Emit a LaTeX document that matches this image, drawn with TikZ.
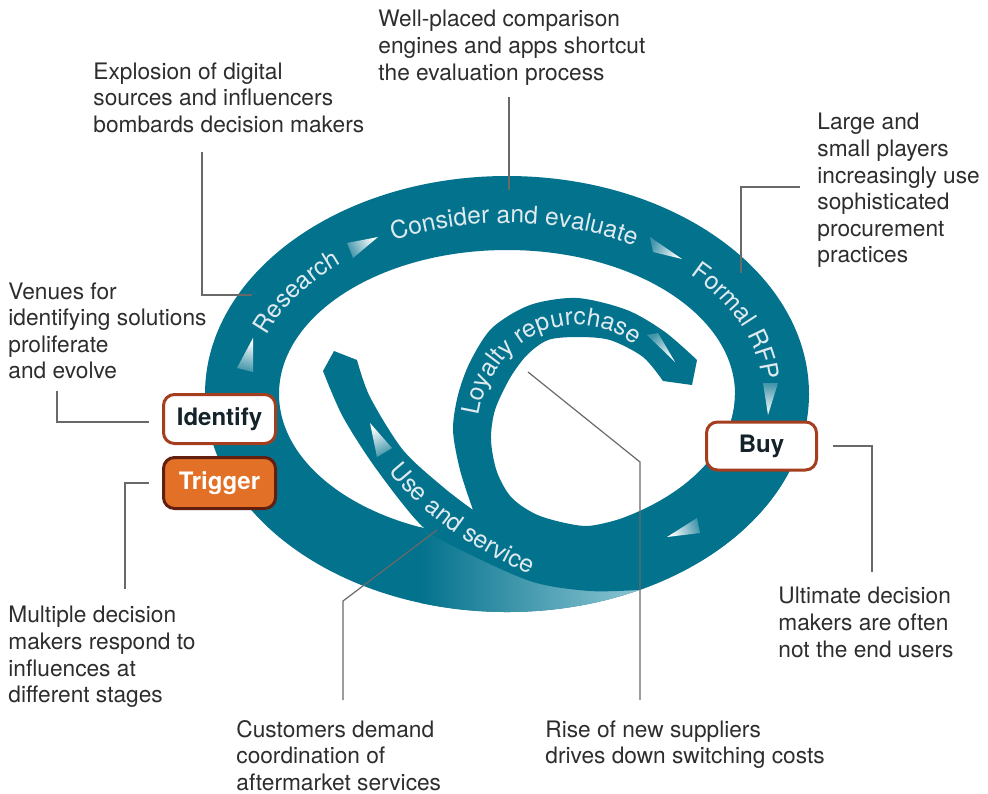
\documentclass[tikz,border=0pt]{standalone}
\usepackage{fontspec}
\setmainfont{TeX Gyre Heros}
\usetikzlibrary{calc,decorations.text}

\definecolor{ringteal}{RGB}{3,114,141}
\definecolor{ringcyan}{RGB}{0,143,170}
\definecolor{ringlight}{RGB}{178,220,230}
\definecolor{bandtext}{RGB}{222,234,239}
\definecolor{boxedge}{RGB}{164,62,30}
\definecolor{triggerfill}{RGB}{226,112,38}
\definecolor{triggeredge}{RGB}{98,30,14}
\definecolor{boxtext}{RGB}{20,34,42}
\definecolor{notetext}{RGB}{45,45,45}
\definecolor{leadergray}{RGB}{105,105,105}

\newcommand\bandfont{\fontsize{12.3}{14}\selectfont}
\newcommand\notefont{\fontsize{11.35}{13.3}\selectfont}

\tikzset{
  stagebox/.style={draw=boxedge, line width=1.5pt, fill=white, rounded corners=5.5pt,
    minimum width=56pt, minimum height=24.5pt, inner sep=0pt, text=boxtext,
    font=\bfseries\fontsize{12}{14}\selectfont},
  note/.style={anchor=north west, inner sep=0pt, align=left, text=notetext, font=\notefont},
  leader/.style={draw=leadergray, line width=0.6pt},
  fadearrow/.style={top color=white, bottom color=ringteal!75!white},
  bandlabel/.style={decorate, decoration={text along path, text align=center,
    text={|\color{bandtext}\bandfont|#1}}}
}

\begin{document}
\begin{tikzpicture}[x=0.5pt,y=-0.5pt]
		% frame in pixels of the picture
		\useasboundingbox (0,0) rectangle (988,793);
		
		% centre and radii of the ring
		\coordinate (o) at (507,394);
		\def\outx{151pt}
		\def\outy{109pt}
		\def\inx{114pt}
		\def\iny{72pt}
		\coordinate (loopjoin) at ($(o)+(-60:114pt and 72pt)$);
		\coordinate (outtwenty) at ($(o)+(-20:151pt and 109pt)$);
		\coordinate (sweepend) at ($(o)+(-64:151pt and 109pt)$);
		
		% the big ring
		\fill[ringteal, even odd rule] (o) ellipse[x radius=\outx, y radius=\outy]
			(o) ellipse[x radius=\inx, y radius=\iny];
		
		% lighter sweep of the ring under the spiral
		\begin{scope}[even odd rule]
			\clip (o) ellipse[x radius=\outx, y radius=\outy]
				(o) ellipse[x radius=\inx, y radius=\iny];
			\shade[left color=ringteal, middle color=ringcyan, right color=ringlight] (420,480) rectangle (700,625);
		\end{scope}
		
		% spiral: use and service band, then the loyalty loop
		\fill[ringteal] (323,371) -- (334,351) -- (357,360)
			-- plot[smooth] coordinates {(357,360) (370,397) (403,450) (443,487) (473,510)}
			-- plot[smooth] coordinates {(473,510) (460,470) (453,430) (458,395) (470,362) (492,328) (530,305) (577,298) (627,310) (665,332) (697,360)}
			-- (692,385) -- (663,381)
			-- plot[smooth] coordinates {(663,381) (643,357) (610,340) (577,337) (548,340) (527,355) (510,378) (495,410) (491,440) (497,472) (512,498) (540,516) (585,526) (loopjoin)}
			arc[start angle=-60, end angle=0, x radius=\inx, y radius=\iny]
			-- (outtwenty)
			arc[start angle=-20, end angle=-64, x radius=\outx, y radius=\outy]
			-- plot[smooth] coordinates {(sweepend) (590,591) (533,582) (467,553) (423,527) (377,470) (343,417) (323,371)}
			-- cycle;
		
		% labels along the bands
		\path[bandlabel=Research] ($(o)+(189:128pt and 85.5pt)$) arc[start angle=189, end angle=109, x radius=128pt, y radius=85.5pt];
		\path[bandlabel=Consider and evaluate] ($(o)+(138:128pt and 85.5pt)$) arc[start angle=138, end angle=38, x radius=128pt, y radius=85.5pt];
		\path[bandlabel=Formal RFP] ($(o)+(66:128pt and 85.5pt)$) arc[start angle=66, end angle=-24, x radius=128pt, y radius=85.5pt];
		\coordinate (loopc) at (577,432);
		\path[bandlabel=Loyalty repurchase] ($(loopc)+(200:49.5pt and 53.5pt)$) arc[start angle=200, end angle=25, x radius=49.5pt, y radius=53.5pt];
		\path[bandlabel=Use and service] (368,442) .. controls (403,497) and (453,545) .. (563,589);
		
		% fading arrow heads
		\shade[fadearrow, shading angle=-14] (253,338) -- (237,368) -- (253,372) -- cycle;
		\shade[fadearrow, shading angle=-64] (378,237) -- (347,243) -- (353,258) -- cycle;
		\shade[fadearrow, shading angle=-115] (682,259) -- (650,237) -- (653,252) -- cycle;
		\shade[fadearrow, shading angle=175] (768,415) -- (763,383) -- (778,383) -- cycle;
		\shade[fadearrow, shading angle=110] (667,537) -- (697,518) -- (700,533) -- cycle;
		\shade[fadearrow, shading angle=26] (370,423) -- (392,448) -- (377,457) -- cycle;
		\shade[fadearrow, shading angle=-141] (675,362) -- (647,335) -- (658,333) -- cycle;
		
		% stage boxes
		\node[stagebox] (identify) at (219.5,419) {Identify};
		\node[stagebox, fill=triggerfill, draw=triggeredge, text=white, minimum height=25.5pt] (trigger) at (219.5,483) {Trigger};
		\node[stagebox, minimum width=55pt, minimum height=24pt] (buy) at (761.5,446) {Buy};
		
		% notes round the cycle
		\node[note] (explosion) at (93,62) {Explosion of digital\\sources and influencers\\bombards decision makers};
		\node[note] (wellplaced) at (378,10) {Well-placed comparison\\engines and apps shortcut\\the evaluation process};
		\node[note] (large) at (817,113) {Large and\\small players\\increasingly use\\sophisticated\\procurement\\practices};
		\node[note] (venues) at (8,282) {Venues for\\identifying solutions\\proliferate\\and evolve};
		\node[note] (multiple) at (8,606) {Multiple decision\\makers respond to\\influences at\\different stages};
		\node[note] (customers) at (236,720) {Customers demand\\coordination of\\aftermarket services};
		\node[note] (rise) at (545,720) {Rise of new suppliers\\drives down switching costs};
		\node[note] (ultimate) at (778,587) {Ultimate decision\\makers are often\\not the end users};
		
		% leader lines
		\coordinate (explosionfoot) at (202,152);
		\coordinate (researchtip) at (252,295);
		\coordinate (wellfoot) at (509,97);
		\coordinate (considertip) at (509,190);
		\coordinate (largefoot) at (800,187);
		\coordinate (rfptip) at (741,273);
		\coordinate (venuesfoot) at (57,391);
		\coordinate (multiplehead) at (125,589);
		\coordinate (customershead) at (343,700);
		\coordinate (usetip) at (437,530);
		\coordinate (risehead) at (640,700);
		\coordinate (loyaltytip) at (528,372);
		\coordinate (ultimatehead) at (872,572);
		\draw[leader] (explosionfoot) |- (researchtip);
		\draw[leader] (wellfoot) -- (considertip);
		\draw[leader] (largefoot) -| (rfptip);
		\draw[leader] (venuesfoot) |- ([shift={(-6.5pt,-1.5pt)}]identify.west);
		\draw[leader] (multiplehead) |- ([xshift=-6.5pt]trigger.west);
		\draw[leader] (customershead) -- ++(0,-99) -- (usetip);
		\draw[leader] (risehead) -- ++(0,-238) -- (loyaltytip);
		\draw[leader] ([xshift=7.5pt]buy.east) -| (ultimatehead);
		
\end{tikzpicture}
\end{document}
